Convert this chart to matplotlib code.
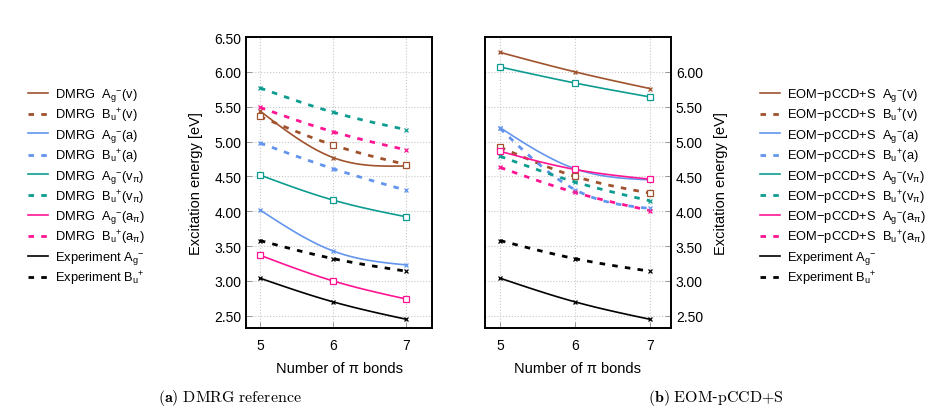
import numpy as np
import matplotlib
matplotlib.use('Agg')
import matplotlib.pyplot as plt
from matplotlib.lines import Line2D

plt.rcParams['font.family'] = ['Liberation Sans', 'DejaVu Sans']
plt.rcParams['mathtext.fontset'] = 'custom'
plt.rcParams['mathtext.rm'] = 'Liberation Sans'
plt.rcParams['mathtext.it'] = 'Liberation Sans'
plt.rcParams['mathtext.bf'] = 'Liberation Sans:bold'

# number of pi bonds
bonds = [5, 6, 7]

# DMRG reference (eV)
dmrg_ag_v = [5.44, 4.77, 4.65]
dmrg_bu_v = [5.36, 4.95, 4.67]
dmrg_ag_a = [4.02, 3.43, 3.23]
dmrg_bu_a = [4.98, 4.61, 4.30]
dmrg_ag_vpi = [4.52, 4.16, 3.92]
dmrg_bu_vpi = [5.77, 5.42, 5.17]
dmrg_ag_api = [3.37, 3.00, 2.74]
dmrg_bu_api = [5.49, 5.14, 4.88]

# EOM-pCCD+S (eV)
eom_ag_v = [6.28, 6.00, 5.76]
eom_bu_v = [4.92, 4.50, 4.26]
eom_ag_a = [5.20, 4.61, 4.45]
eom_bu_a = [5.19, 4.31, 4.04]
eom_ag_vpi = [6.07, 5.84, 5.64]
eom_bu_vpi = [4.79, 4.42, 4.15]
eom_ag_api = [4.86, 4.60, 4.46]
eom_bu_api = [4.63, 4.27, 4.01]

# experiment (eV)
exp_ag = [3.04, 2.70, 2.45]
exp_bu = [3.58, 3.32, 3.14]

tags = ['A$_{g}{}^{-}$(v)', 'B$_{u}{}^{+}$(v)', 'A$_{g}{}^{-}$(a)', 'B$_{u}{}^{+}$(a)',
        'A$_{g}{}^{-}$(v$_{π}$)', 'B$_{u}{}^{+}$(v$_{π}$)',
        'A$_{g}{}^{-}$(a$_{π}$)', 'B$_{u}{}^{+}$(a$_{π}$)']
exp_tags = ['Experiment A$_{g}{}^{-}$', 'Experiment B$_{u}{}^{+}$']

brown = '#a0522d'
blue = '#6495ed'
teal = '#0e9c91'
pink = '#ff1493'
colors = [brown, brown, blue, blue, teal, teal, pink, pink]
dashed = [False, True] * 4
markers = ['x', 's', 'x', 'x', 's', 'x', 's', 'x']


def spline(x, y, n=60):
    # natural cubic spline, like gnuplot "smooth csplines"
    x = np.asarray(x, float)
    y = np.asarray(y, float)
    k = len(x)
    h = np.diff(x)
    A = np.zeros((k, k))
    b = np.zeros(k)
    A[0, 0] = A[-1, -1] = 1
    for i in range(1, k - 1):
        A[i, i - 1] = h[i - 1]
        A[i, i] = 2 * (h[i - 1] + h[i])
        A[i, i + 1] = h[i]
        b[i] = 6 * ((y[i + 1] - y[i]) / h[i] - (y[i] - y[i - 1]) / h[i - 1])
    M = np.linalg.solve(A, b)
    xs, ys = [], []
    for i in range(k - 1):
        t = np.linspace(x[i], x[i + 1], n)
        s = (M[i] * (x[i + 1] - t) ** 3 / (6 * h[i]) + M[i + 1] * (t - x[i]) ** 3 / (6 * h[i])
             + (y[i] - M[i] * h[i] ** 2 / 6) * (x[i + 1] - t) / h[i]
             + (y[i + 1] - M[i + 1] * h[i] ** 2 / 6) * (t - x[i]) / h[i])
        xs.append(t)
        ys.append(s)
    return np.concatenate(xs), np.concatenate(ys)


def draw(ax, series):
    handles = []
    for ys, c, d, m in series:
        sx, sy = spline(bonds, ys)
        if d:
            ax.plot(sx, sy, color=c, lw=2.0, dashes=(2.0, 2.6), zorder=3)
        else:
            ax.plot(sx, sy, color=c, lw=1.2, zorder=3)
        ax.plot(bonds, ys, ls='none', marker=m, color=c, ms=4 if m == 's' else 3.5,
                mfc='white' if m == 's' else c, mew=0.9, zorder=4)
        if d:
            handles.append(Line2D([], [], color=c, lw=2.0, dashes=(2.0, 2.6)))
        else:
            handles.append(Line2D([], [], color=c, lw=1.2))
    return handles


fig = plt.figure(figsize=(9.31, 4.10), dpi=100)
axL = fig.add_axes([246 / 931, 1 - 329 / 410, 186 / 931, 291 / 410])
axR = fig.add_axes([485 / 931, 1 - 329 / 410, 186 / 931, 291 / 410])

dmrg = [dmrg_ag_v, dmrg_bu_v, dmrg_ag_a, dmrg_bu_a, dmrg_ag_vpi, dmrg_bu_vpi, dmrg_ag_api, dmrg_bu_api]
eom = [eom_ag_v, eom_bu_v, eom_ag_a, eom_bu_a, eom_ag_vpi, eom_bu_vpi, eom_ag_api, eom_bu_api]

hL = draw(axL, list(zip(dmrg + [exp_ag, exp_bu], colors + ['k', 'k'], dashed + [False, True],
                        markers + ['x', 'x'])))
hR = draw(axR, list(zip(eom + [exp_ag, exp_bu], colors + ['k', 'k'], dashed + [False, True],
                        markers + ['x', 'x'])))

for ax in (axL, axR):
    ax.set_xlim(4.81, 7.35)
    ax.set_ylim(2.325, 6.50)
    ax.set_xticks(bonds)
    ax.grid(True, color='#c8c8c8', ls=':', lw=0.8)
    ax.set_axisbelow(True)
    for sp in ax.spines.values():
        sp.set_linewidth(1.4)
    ax.tick_params(direction='in', length=4, width=0.6, labelsize=10, color='#888888')
    ax.tick_params(axis='x', pad=7)
    ax.set_xlabel('Number of π bonds', fontsize=10.5, labelpad=7)

axL.set_yticks(np.arange(2.5, 6.51, 0.5))
axL.set_yticklabels(['%.2f' % v for v in np.arange(2.5, 6.51, 0.5)])
axL.set_ylabel('Excitation energy [eV]', fontsize=10.5, labelpad=8)
axR.set_xlim(4.8, 7.28)
axR.set_yticks(np.arange(2.5, 6.01, 0.5))
axR.set_yticklabels(['%.2f' % v for v in np.arange(2.5, 6.01, 0.5)])
axR.yaxis.tick_right()
axR.yaxis.set_label_position('right')
axR.set_ylabel('Excitation energy [eV]', fontsize=10.5, labelpad=8)

fig.legend(hL, ['DMRG  ' + t for t in tags] + exp_tags, loc='upper left',
           bbox_to_anchor=(23 / 931, 1 - 82 / 410), frameon=False, fontsize=9.3,
           handlelength=1.5, handletextpad=0.55, labelspacing=0.22, borderaxespad=0)
fig.legend(hR, ['EOM\u2212pCCD+S  ' + t for t in tags] + exp_tags, loc='upper left',
           bbox_to_anchor=(755 / 931, 1 - 82 / 410), frameon=False, fontsize=9.3,
           handlelength=1.5, handletextpad=0.55, labelspacing=0.22, borderaxespad=0)

cm = {'fontsize': 11.5, 'ha': 'center', 'va': 'center'}
plt.rcParams['mathtext.fontset'] = 'cm'
fig.text(230 / 931, 1 - 398 / 410, r'$(\mathbf{a})\ \mathrm{DMRG\ reference}$', **cm)
fig.text(716 / 931, 1 - 398 / 410, r'$(\mathbf{b})\ \mathrm{EOM}$-$\mathrm{pCCD{+}S}$', **cm)

fig.savefig('out.png', dpi=100)
